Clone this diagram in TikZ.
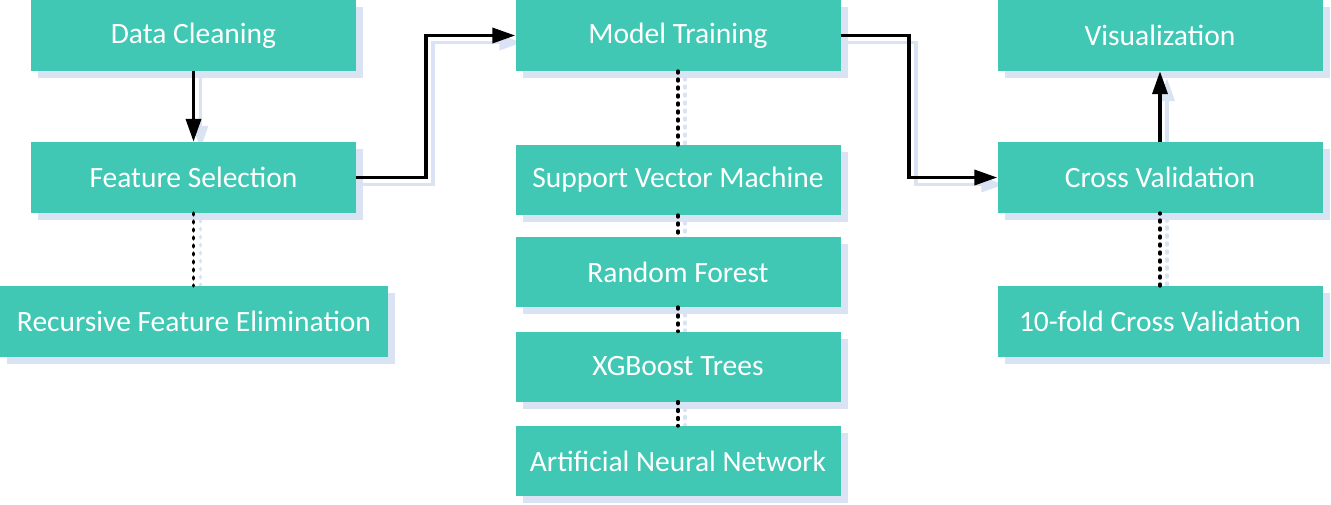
\documentclass[tikz,border=0pt]{standalone}
\usepackage{fontspec}
\setmainfont{Carlito}
\usepackage{xcolor}
\usepackage{tikz}
\usetikzlibrary{arrows.meta,shadows,backgrounds}

\definecolor{boxgreen}{HTML}{40C8B4}
\definecolor{shadowblue}{HTML}{DAE3F3}

% all connectors, drawn once as shadow and once in black
\newcommand{\flowlinks}[1]{%
    \draw[arrowline,#1] (clean) -- (select);
    \draw[arrowline,#1] (select.east) -- ++(70,0) |- (train.west);
    \draw[arrowline,#1] (train.east) -- ++(68,0) |- (cv.west);
    \draw[arrowline,#1] (cv) -- (vis);
    \draw[dotline,#1] (select.south) -- (select.south |- rfe.north);
    \draw[dotline,#1] (train) -- (svm);
    \draw[dotline,#1] (svm) -- (rf);
    \draw[dotline,#1] (rf) -- (xgb);
    \draw[dotline,#1] (xgb) -- (ann);
    \draw[dotline,#1] (tenfold) -- (cv);
}

\begin{document}
\begin{tikzpicture}[x=1pt,y=1pt,
        stage/.style={fill=boxgreen,text=white,minimum width=325pt,minimum height=71pt,inner sep=0pt,
            font=\fontsize{29.5}{35}\selectfont,
            drop shadow={shadow xshift=7pt,shadow yshift=-7pt,fill=shadowblue,opacity=1}},
        arrowline/.style={line width=3.6pt,-{Triangle[length=23pt,width=15pt]}},
        dotline/.style={line width=3.8pt,line cap=round,dash pattern=on 1.6pt off 6.4pt},
        lifted/.style={shadowblue,transform canvas={xshift=7pt,yshift=-7pt}}]
    \useasboundingbox (0,0) rectangle (1331,-504);

    \node[stage] (clean) at (193.5,-35.5) {Data Cleaning};
    \node[stage] (select) at (193.5,-177.5) {Feature Selection};
    \node[stage,minimum width=388pt] (rfe) at (194,-321.5) {Recursive Feature Elimination};

    \node[stage] (train) at (678,-35.5) {Model Training};
    \node[stage,minimum height=70pt] (svm) at (678,-180) {Support Vector Machine};
    \node[stage,minimum height=70pt] (rf) at (678,-272) {Random Forest};
    \node[stage,minimum height=70pt] (xgb) at (678,-366.5) {XGBoost Trees};
    \node[stage,minimum height=70pt] (ann) at (678,-461) {Artificial Neural Network};

    \node[stage] (vis) at (1160,-35.5) {Visualization};
    \node[stage] (cv) at (1160,-177.5) {Cross Validation};
    \node[stage] (tenfold) at (1160,-321.5) {10-fold Cross Validation};

    \begin{scope}[on background layer]
        \flowlinks{lifted}
    \end{scope}
    \flowlinks{black}
\end{tikzpicture}
\end{document}
